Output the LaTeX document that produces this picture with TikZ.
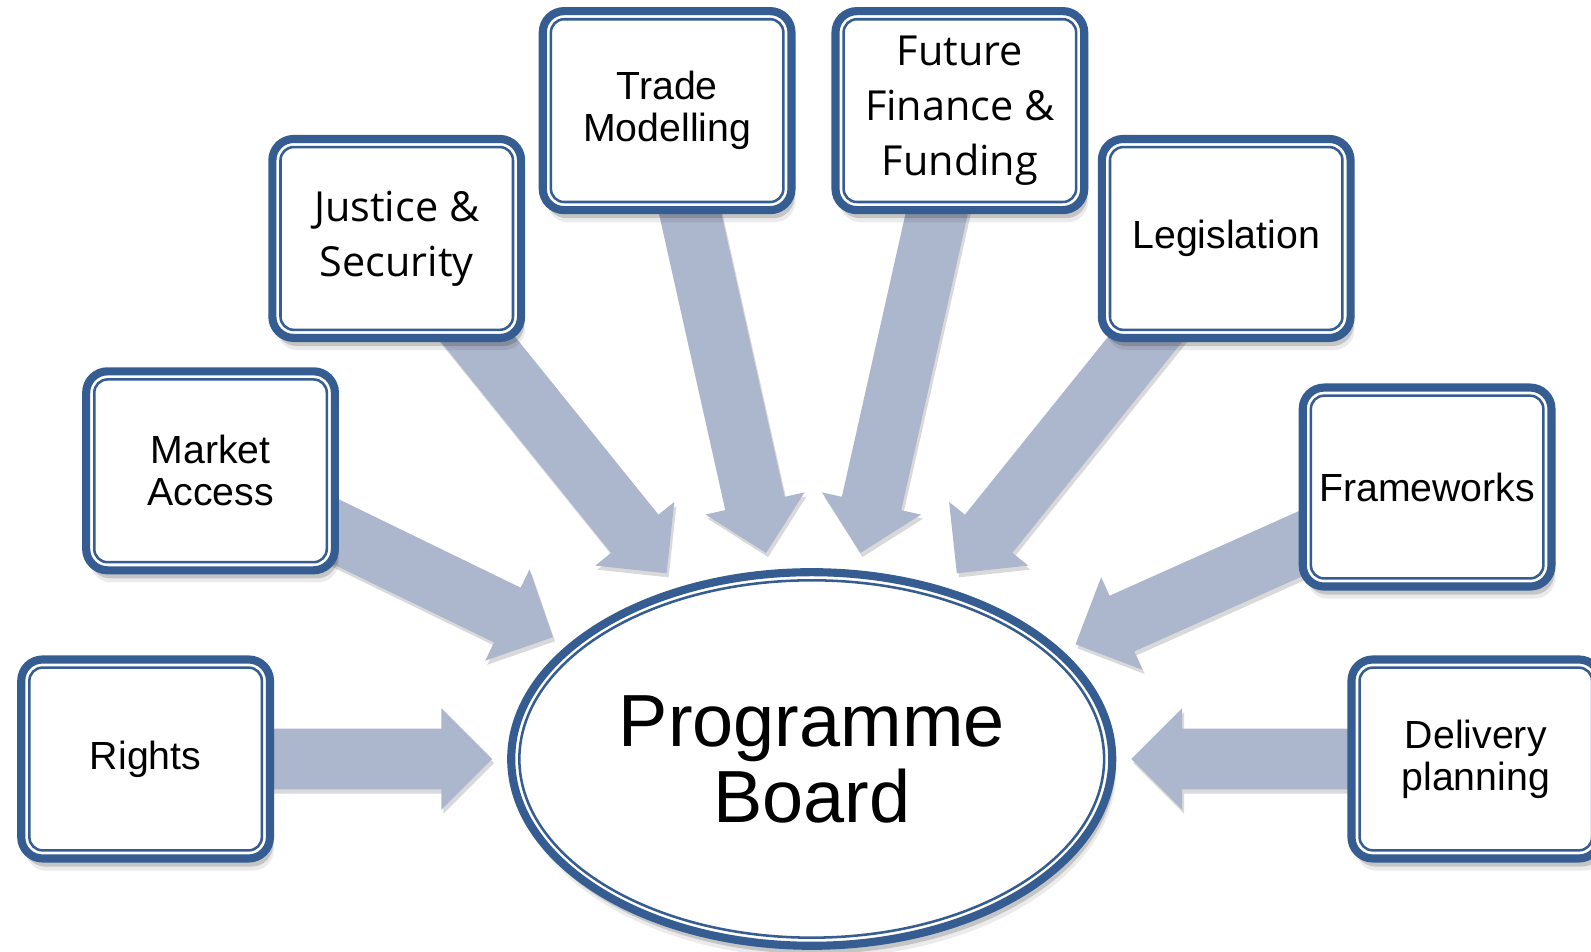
\documentclass[tikz,border=0pt]{standalone}
\usepackage{fontspec}
\setmainfont{Liberation Sans}
\newfontfamily\opensans{Open Sans}
\usetikzlibrary{calc,shapes.geometric,shadows}
\definecolor{boxblue}{RGB}{54,93,145}
\definecolor{arrowfill}{RGB}{172,182,204}
\pgfdeclarelayer{background}
\pgfsetlayers{background,main}
\newcommand\blkarrow[2]{%
  \coordinate (#2-h) at ($(#2)!0.5cm!(#1)$);
  \fill[blockarrow] ($(#1)!0.3cm!90:(#2)$) -- ($(#2-h)!0.3cm!90:(#2)$) -- ($(#2-h)!0.5cm!90:(#2)$) -- (#2)
    -- ($(#2-h)!0.5cm!-90:(#2)$) -- ($(#2-h)!0.3cm!-90:(#2)$) -- ($(#1)!0.3cm!-90:(#2)$) -- cycle;}
\begin{document}
\begin{tikzpicture}[x=0.01cm,y=-0.01cm,
  boxshadow/.style={drop shadow={shadow xshift=0.04cm, shadow yshift=-0.12cm, opacity=0.08, fill=black},
                    drop shadow={shadow xshift=0.03cm, shadow yshift=-0.08cm, opacity=0.16, fill=black}},
  topicbox/.style={draw=boxblue, line width=0.08cm, fill=white, rounded corners=0.21cm,
    minimum width=2.45cm, minimum height=1.96cm, inner sep=0pt, align=center,
    font=\fontsize{11}{11.7}\selectfont, boxshadow,
    path picture={\draw[boxblue, line width=0.025cm, rounded corners=0.13cm]
      ([shift={(0.08cm,0.08cm)}]path picture bounding box.south west) rectangle
      ([shift={(-0.08cm,-0.08cm)}]path picture bounding box.north east);}},
  lucfont/.style={font=\opensans\fontsize{11.6}{15.4}\selectfont},
  boardnode/.style={ellipse, draw=boxblue, line width=0.08cm, fill=white,
    minimum width=5.92cm, minimum height=3.68cm, inner sep=0pt, align=center,
    font=\fontsize{20.7}{21.3}\selectfont, boxshadow,
    path picture={\draw[boxblue, line width=0.025cm]
      (path picture bounding box.center) ellipse [x radius=2.88cm, y radius=1.76cm];}},
  blockarrow/.style={fill=arrowfill, drop shadow={shadow xshift=0.02cm, shadow yshift=-0.04cm, opacity=0.15, fill=black}}
]
\useasboundingbox (0,0) rectangle (1568,938);

% topic boxes
\node[topicbox] (rights) at (143.5,748) {Rights};
\node[topicbox] (market) at (207.5,464) {Market\\Access};
\node[topicbox, lucfont] (justice) at (391,235) {Justice \&\\Security};
\node[topicbox] (trade) at (657.5,109) {Trade\\Modelling};
\node[topicbox, lucfont] (future) at (946,109) {Future\\Finance \&\\Funding};
\node[topicbox] (legis) at (1208.5,235) {Legislation};
\node[topicbox] (frame) at (1406.5,480) {Frameworks};
\node[topicbox] (deliv) at (1454.5,748) {Delivery\\planning};

% central board
\node[boardnode] (board) at (800,748) {Programme\\Board};

% arrow tips
\coordinate (tRights) at (485,748);
\coordinate (tMarket) at (545,628);
\coordinate (tJustice) at (657,565);
\coordinate (tTrade) at (755,545);
\coordinate (tFuture) at (848,545);
\coordinate (tLegis) at (943,565);
\coordinate (tFrame) at (1060,635);
\coordinate (tDeliv) at (1115,748);

\begin{pgfonlayer}{background}
\blkarrow{rights.center}{tRights}
\blkarrow{market.center}{tMarket}
\blkarrow{justice.center}{tJustice}
\blkarrow{trade.center}{tTrade}
\blkarrow{future.center}{tFuture}
\blkarrow{legis.center}{tLegis}
\blkarrow{frame.center}{tFrame}
\blkarrow{deliv.center}{tDeliv}
\end{pgfonlayer}
\end{tikzpicture}
\end{document}
